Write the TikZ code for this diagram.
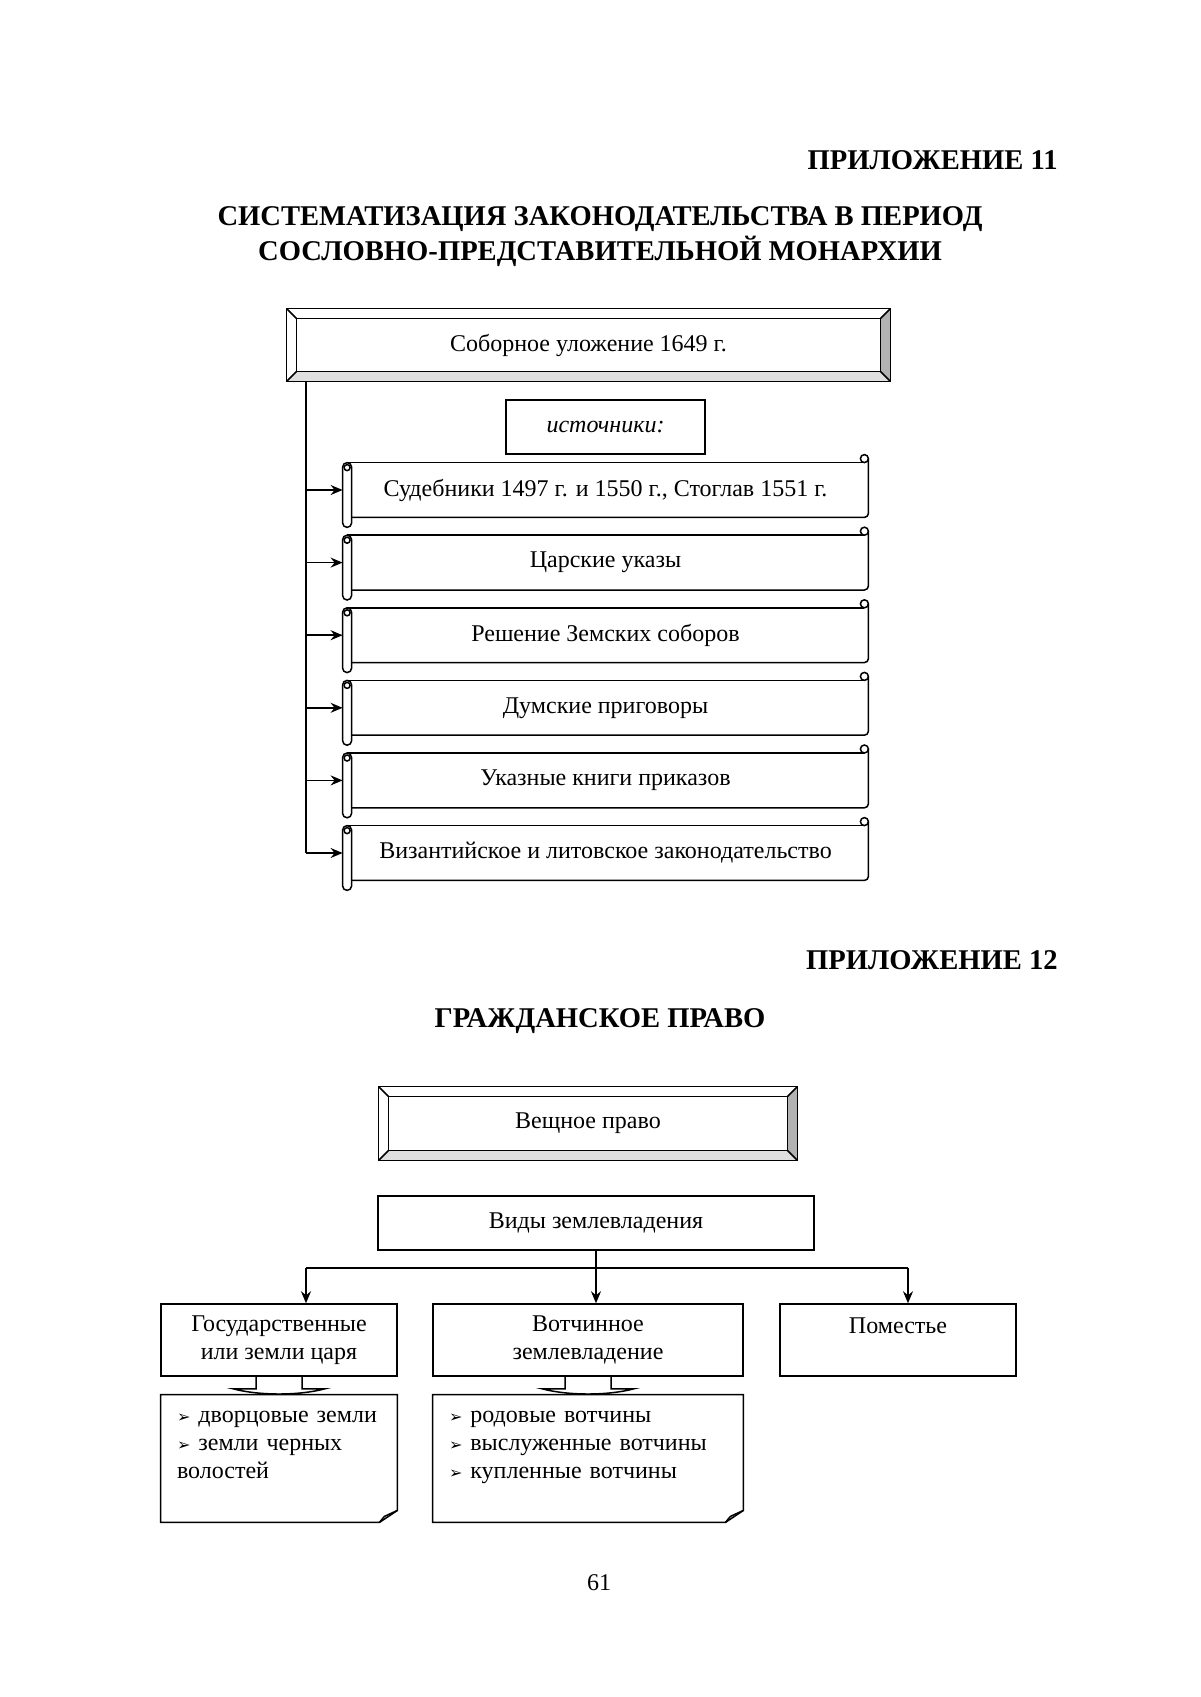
\documentclass[tikz,border=0pt]{standalone}
\usepackage{fontspec}
\setmainfont{Liberation Serif}
\newfontfamily\bulletfont{DejaVu Sans}
\usepackage{tikz}
\usetikzlibrary{arrows.meta}
\usetikzlibrary{calc}
\newcommand{\arrbullet}{{\bulletfont\fontsize{8}{9}\selectfont ➢}}
\tikzset{thinline/.style={line width=0.75pt}}
\tikzset{txt/.style={font=\fontsize{12}{14}\selectfont}}
\tikzset{headtxt/.style={font=\bfseries\fontsize{14.3}{16}\selectfont, inner sep=0pt}}
\tikzset{plainbox/.style={draw, thinline, txt, inner sep=0pt, align=center}}
\tikzset{conn/.style={thinline, -{Stealth[length=6pt, width=5pt, inset=2pt]}}}
\tikzset{framebox/.style={txt, inner sep=0pt, append after command={\pgfextra{
  \fill[gray!25] (\tikzlastnode.south west) -- (\tikzlastnode.south east) -- ([shift={(-10,-10)}]\tikzlastnode.south east) -- ([shift={(10,-10)}]\tikzlastnode.south west) -- cycle;
  \fill[gray!60] (\tikzlastnode.south east) -- (\tikzlastnode.north east) -- ([shift={(-10,10)}]\tikzlastnode.north east) -- ([shift={(-10,-10)}]\tikzlastnode.south east) -- cycle;
  \draw[thinline] (\tikzlastnode.south west) rectangle (\tikzlastnode.north east);
  \draw[thinline] ([shift={(10,10)}]\tikzlastnode.north west) rectangle ([shift={(-10,-10)}]\tikzlastnode.south east);
  \draw[thinline] (\tikzlastnode.north west) -- ([shift={(10,10)}]\tikzlastnode.north west);
  \draw[thinline] (\tikzlastnode.north east) -- ([shift={(-10,10)}]\tikzlastnode.north east);
  \draw[thinline] (\tikzlastnode.south west) -- ([shift={(10,-10)}]\tikzlastnode.south west);
  \draw[thinline] (\tikzlastnode.south east) -- ([shift={(-10,-10)}]\tikzlastnode.south east);
}}}}
\tikzset{scrollbox/.style={txt, inner sep=0pt, minimum width=262.5pt, minimum height=27pt, append after command={\pgfextra{
  \draw[thinline, rounded corners=2.25pt] (\tikzlastnode.north west) rectangle ([shift={(9,10)}]\tikzlastnode.south west);
  \draw[thinline] ([shift={(4.5,5)}]\tikzlastnode.north west) circle (1.5pt);
  \draw[thinline] ([shift={(4.5,0)}]\tikzlastnode.north west) -- ([shift={(-4,0)}]\tikzlastnode.north east);
  \draw[thinline] ([shift={(-4,-4)}]\tikzlastnode.north east) circle (2pt);
  \draw[thinline, rounded corners=2pt] ([shift={(0,-4)}]\tikzlastnode.north east) -- (\tikzlastnode.south east) -- ([shift={(9,0)}]\tikzlastnode.south west);
}}}}
\tikzset{notebox/.style={txt, align=left, inner xsep=8pt, inner ysep=0pt, minimum height=63.5pt, append after command={\pgfextra{
  \draw[thinline] (\tikzlastnode.north west) -- (\tikzlastnode.north east) -- ([shift={(0,-12)}]\tikzlastnode.south east) -- ([shift={(-18,0)}]\tikzlastnode.south east) -- (\tikzlastnode.south west) -- cycle;
  \draw[thinline] ([shift={(0,-12)}]\tikzlastnode.south east) -- ([shift={(-13,-6)}]\tikzlastnode.south east) -- ([shift={(-18,0)}]\tikzlastnode.south east);
}}}}
\begin{document}
\begin{tikzpicture}[x=0.5pt, y=-0.5pt]

\fill[white] (0,0) rectangle (1200,1697);
\useasboundingbox (0,0) rectangle (1200,1697);

\node[headtxt, anchor=east] (app11) at (1058,160) {ПРИЛОЖЕНИЕ 11};
\node[headtxt] (title1a) at (600,219) {СИСТЕМАТИЗАЦИЯ ЗАКОНОДАТЕЛЬСТВА В ПЕРИОД};
\node[headtxt] (title1b) at (600,251) {СОСЛОВНО-ПРЕДСТАВИТЕЛЬНОЙ МОНАРХИИ};

\node[framebox, minimum width=301.5pt, minimum height=36pt] (code) at (588.5,345) {Соборное уложение 1649 г.};
\node[plainbox, minimum width=99.5pt, minimum height=27pt] (src) at (605.5,427) {\itshape источники:};

\node[scrollbox] (s1) at (605.5,490) {Судебники 1497 г. и 1550 г., Стоглав 1551 г.};
\node[scrollbox] (s2) at (605.5,562.6) {Царские указы};
\node[scrollbox] (s3) at (605.5,635.2) {Решение Земских соборов};
\node[scrollbox] (s4) at (605.5,707.8) {Думские приговоры};
\node[scrollbox] (s5) at (605.5,780.4) {Указные книги приказов};
\node[scrollbox] (s6) at (605.5,853) {Византийское и литовское законодательство};

\coordinate (trunk) at (306,853);
\draw[thinline] (code.south -| trunk) -- (trunk);
\draw[conn] (trunk |- s1.west) -- (s1.west);
\draw[conn] (trunk |- s2.west) -- (s2.west);
\draw[conn] (trunk |- s3.west) -- (s3.west);
\draw[conn] (trunk |- s4.west) -- (s4.west);
\draw[conn] (trunk |- s5.west) -- (s5.west);
\draw[conn] (trunk |- s6.west) -- (s6.west);

\node[headtxt, anchor=east] (app12) at (1058,960) {ПРИЛОЖЕНИЕ 12};
\node[headtxt] (title2) at (600,1021) {ГРАЖДАНСКОЕ ПРАВО};

\node[framebox, minimum width=209pt, minimum height=36.5pt] (thing) at (588,1123.5) {Вещное право};
\node[plainbox, minimum width=218pt, minimum height=27pt] (kinds) at (596,1223) {Виды землевладения};

\node[plainbox, minimum width=118pt, minimum height=36pt] (gos) at (279,1340) {Государственные\\или земли царя};
\node[plainbox, minimum width=155pt, minimum height=36pt] (vot) at (588,1340) {Вотчинное\\землевладение};
\node[plainbox, minimum width=118pt, minimum height=36pt] (pom) at (898,1340) {Поместье\\\mbox{}};

\coordinate (barL) at (306,1268);
\coordinate (barR) at (908,1268);
\draw[thinline] (barL) -- (barR);
\draw[conn] (barL) -- (barL |- gos.north);
\draw[conn] (kinds.south) -- (kinds.south |- vot.north);
\draw[conn] (barR) -- (barR |- pom.north);

\node[notebox, text width=102pt] (gosnote) at (279,1458.5) {\arrbullet{} дворцовые земли\\\arrbullet{} земли черных\\волостей\\\mbox{}};
\node[notebox, text width=139pt] (votnote) at (588,1458.5) {\arrbullet{} родовые вотчины\\\arrbullet{} выслуженные вотчины\\\arrbullet{} купленные вотчины\\\mbox{}};

\draw[thinline] ([shift={(-23,0)}]gos.south) -- ([shift={(-23,12)}]gos.south) -- ([shift={(-46,12)}]gos.south) .. controls ([shift={(-20,19)}]gos.south) and ([shift={(20,19)}]gos.south) .. ([shift={(46,12)}]gos.south) -- ([shift={(23,12)}]gos.south) -- ([shift={(23,0)}]gos.south);
\draw[thinline] ([shift={(-23,0)}]vot.south) -- ([shift={(-23,12)}]vot.south) -- ([shift={(-46,12)}]vot.south) .. controls ([shift={(-20,19)}]vot.south) and ([shift={(20,19)}]vot.south) .. ([shift={(46,12)}]vot.south) -- ([shift={(23,12)}]vot.south) -- ([shift={(23,0)}]vot.south);

\node[txt] (pagenum) at (599,1583) {61};

\end{tikzpicture}
\end{document}
